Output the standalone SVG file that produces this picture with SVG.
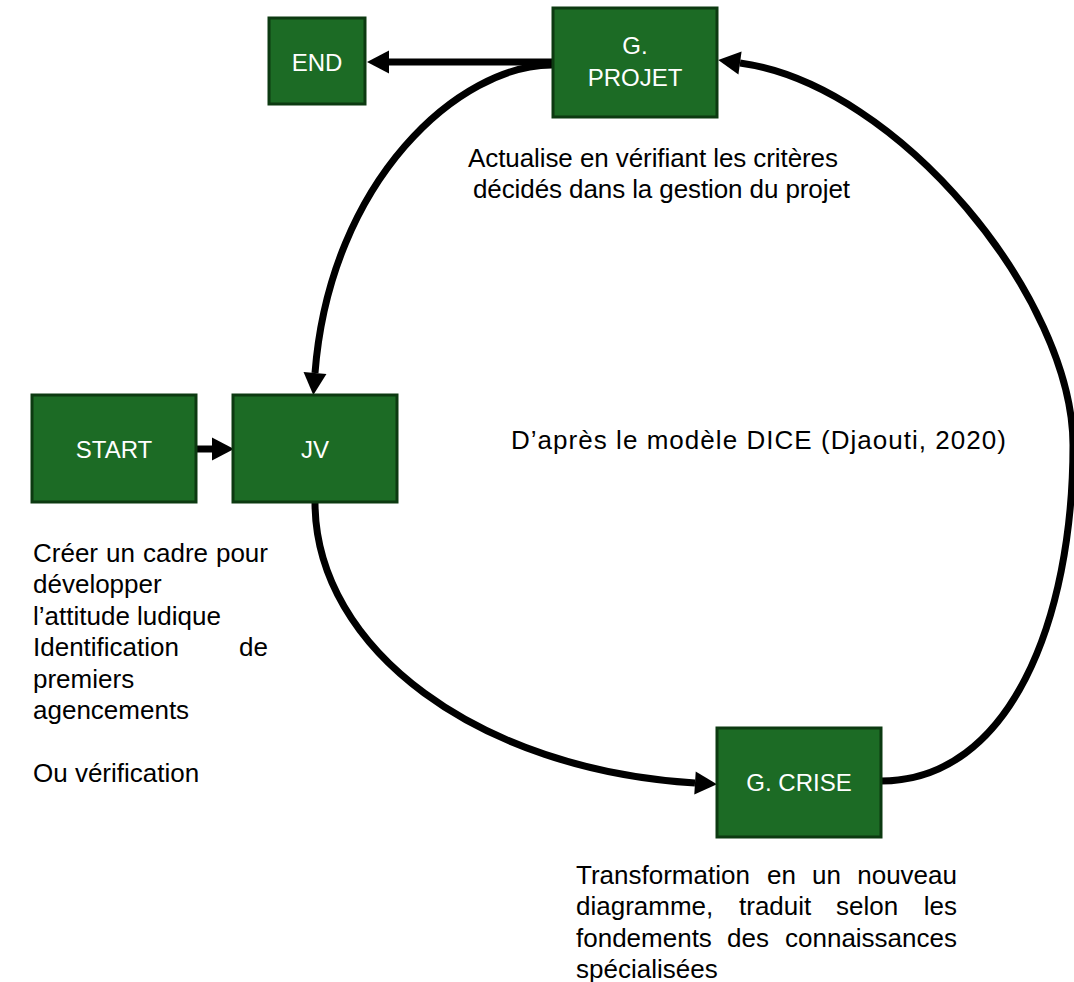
<svg xmlns="http://www.w3.org/2000/svg" width="1074" height="982" viewBox="0 0 1074 982">
<style>
.node rect{fill:#1c6b25;stroke:#0c3a11;stroke-width:3}
.node text{fill:#ffffff;font-family:"Liberation Sans",Arial,sans-serif;font-size:24px;text-anchor:middle}
.lbl{fill:#000;font-family:"Liberation Sans",Arial,sans-serif;font-size:26px}
.e{text-anchor:end}
.conn path{fill:none;stroke:#000;stroke-width:7}
</style>
<defs>
<marker id="ah" markerUnits="userSpaceOnUse" markerWidth="26" markerHeight="26" viewBox="0 -13 26 26" refX="0" refY="0" orient="auto" overflow="visible">
<path d="M0,-11.5 L22,0 L0,11.5 Z" fill="#000"/>
</marker>
</defs>
<g class="conn">
<path d="M553,62 L389,62" marker-end="url(#ah)"/>
<path d="M196,449 L212,449" stroke-width="8" marker-end="url(#ah)"/>
<path d="M553,65 C460,64 330,180 315,373" marker-end="url(#ah)"/>
<path d="M315,502 C315,650 480,770 695,783" marker-end="url(#ah)"/>
<path d="M881,781 C1010,781 1073,620 1073,445 C1073,300 900,85 740,63" marker-end="url(#ah)"/>
</g>
<g id="node-end" class="node"><rect x="269" y="18" width="96" height="86"/><text x="317" y="70.5">END</text></g>
<g id="node-gprojet" class="node"><rect x="553" y="8" width="164" height="109"/><text x="635" y="54">G.</text><text x="635" y="86">PROJET</text></g>
<g id="node-start" class="node"><rect x="32" y="395" width="164" height="107"/><text x="114" y="458">START</text></g>
<g id="node-jv" class="node"><rect x="233" y="395" width="164" height="107"/><text x="315" y="458">JV</text></g>
<g id="node-gcrise" class="node"><rect x="717" y="728" width="164" height="109"/><text x="799" y="791">G. CRISE</text></g>
<g id="labels">
<text class="lbl" x="468" y="167" textLength="370" lengthAdjust="spacing">Actualise en vérifiant les critères</text>
<text class="lbl" x="473" y="198" textLength="377" lengthAdjust="spacing">décidés dans la gestion du projet</text>
<text class="lbl" x="511" y="449" font-size="27" textLength="495" lengthAdjust="spacing">D’après le modèle DICE (Djaouti, 2020)</text>
<text class="lbl" y="562"><tspan x="33">Créer</tspan><tspan x="106">un</tspan><tspan x="143">cadre</tspan></text>
<text class="lbl e" x="268" y="562">pour</text>
<text class="lbl" x="33" y="593">développer</text>
<text class="lbl" x="33" y="625">l’attitude ludique</text>
<text class="lbl" x="33" y="656">Identification</text>
<text class="lbl e" x="268" y="656">de</text>
<text class="lbl" x="33" y="688">premiers</text>
<text class="lbl" x="33" y="719">agencements</text>
<text class="lbl" x="33" y="782">Ou vérification</text>
<text class="lbl" y="884"><tspan x="576">Transformation</tspan><tspan x="767">en</tspan><tspan x="812">un</tspan></text>
<text class="lbl e" x="957" y="884">nouveau</text>
<text class="lbl" y="915"><tspan x="576">diagramme,</tspan><tspan x="739">traduit</tspan><tspan x="836">selon</tspan></text>
<text class="lbl e" x="957" y="915">les</text>
<text class="lbl" y="947"><tspan x="576">fondements</tspan><tspan x="727">des</tspan></text>
<text class="lbl e" x="957" y="947">connaissances</text>
<text class="lbl" x="576" y="978">spécialisées</text>
</g>
</svg>
